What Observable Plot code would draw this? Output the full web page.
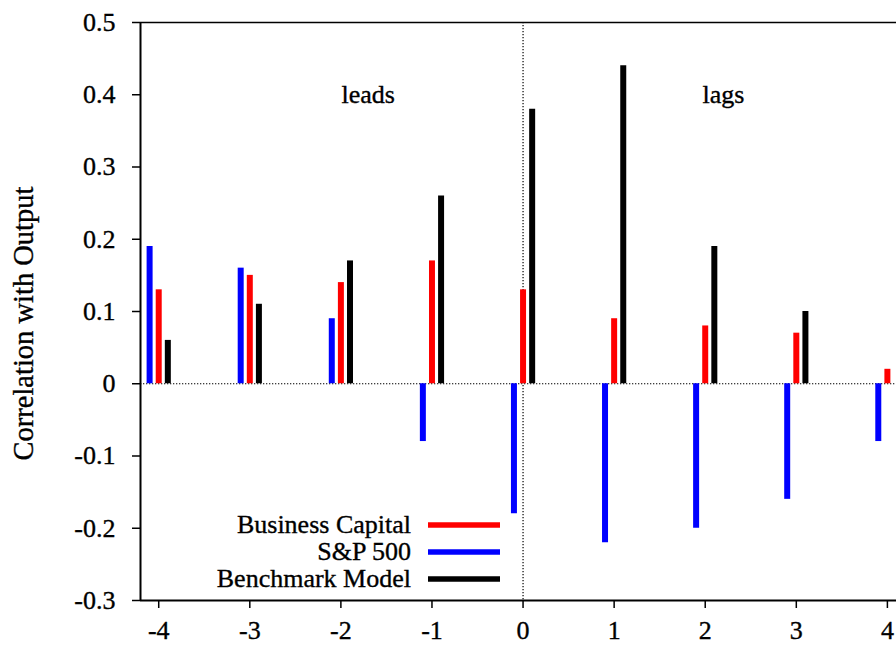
<!DOCTYPE html>
<html><head><meta charset="utf-8">
<script src="https://cdn.jsdelivr.net/npm/d3@7"></script>
<script src="https://cdn.jsdelivr.net/npm/@observablehq/plot@0.6"></script>
<style>
html,body{margin:0;padding:0;background:#fff;overflow:hidden;}
#chart svg, #chart svg text{font-family:"Liberation Serif","DejaVu Serif",serif !important;}
#chart svg text{stroke:#000;stroke-width:0.35px;}
#chart svg{display:block;}
</style></head><body><div id="chart"></div>
<script>
const lags = [-4, -3, -2, -1, 0, 1, 2, 3, 4];
const businessCapital = [0.13, 0.15, 0.14, 0.17, 0.13, 0.09, 0.08, 0.07, 0.02];
const sp500 = [0.19, 0.16, 0.09, -0.08, -0.18, -0.22, -0.20, -0.16, -0.08];
const benchmarkModel = [0.06, 0.11, 0.17, 0.26, 0.38, 0.44, 0.19, 0.10, null];
const yTicks = [-0.3, -0.2, -0.1, 0, 0.1, 0.2, 0.3, 0.4, 0.5];
const xTicks = [-4, -3, -2, -1, 0, 1, 2, 3, 4];
const seriesNames = ["Business Capital", "S&P 500", "Benchmark Model"];
const seriesColors = ["#ff0000", "#0000ff", "#000000"];
const seriesOffsets = [0, -0.1, 0.1];
const seriesValues = [businessCapital, sp500, benchmarkModel];
const annotationLabels = ["leads", "lags"];
const annotationLags = [-1.7, 2.2];
const annotationValues = [0.4, 0.4];
const yLabel = "Correlation with Output";

const FONT = "'Liberation Serif','DejaVu Serif',serif";
const annotations = annotationLabels.map((t, i) => ({label: t, lag: annotationLags[i], value: annotationValues[i]}));
const fmt = d => d === 0 ? "0" : (d < 0 ? "-" : "") + Math.abs(d).toFixed(1);

const barMarks = seriesNames.map((name, si) => {
  const rows = lags.map((l, i) => ({lag: l, value: seriesValues[si][i]})).filter(d => d.value != null);
  return Plot.ruleX(rows, {x: d => d.lag + seriesOffsets[si], y1: 0, y2: "value", stroke: seriesColors[si], strokeWidth: 6});
});

const chart = Plot.plot({
  width: 896,
  height: 645,
  marginLeft: 140,
  marginRight: 0,
  marginTop: 22,
  marginBottom: 45,
  style: {fontSize: "26px", background: "#fff", color: "#000"},
  x: {domain: [-4.2, 4.1]},
  y: {domain: [-0.3, 0.5]},
  marks: [
    Plot.ruleY([0], {stroke: "#000", strokeWidth: 1.2, strokeDasharray: "1.3,1.7"}),
    Plot.ruleX([0], {stroke: "#000", strokeWidth: 1.2, strokeDasharray: "1.3,1.7"}),
    ...barMarks,
    Plot.ruleY([0.5], {stroke: "#000", strokeWidth: 1.5}),
    Plot.ruleY([-0.3], {stroke: "#000", strokeWidth: 2}),
    Plot.ruleX([-4.2], {stroke: "#000", strokeWidth: 2}),
    Plot.axisY({ticks: yTicks, tickSize: 8, tickPadding: 17, tickFormat: fmt, label: null, strokeWidth: 1.5, fontSize: 26}),
    Plot.axisX({ticks: xTicks, tickSize: 8, tickPadding: 12, tickFormat: d => String(d), label: null, strokeWidth: 1.5, fontSize: 26}),
    Plot.text(annotations, {x: "lag", y: "value", text: "label", fontSize: 26}),
    Plot.text([yLabel], {frameAnchor: "left", textAnchor: "middle", lineAnchor: "middle", rotate: -90, dx: -117, dy: 12, fontSize: 28.5})
  ]
});
document.getElementById("chart").appendChild(chart);

const svg = d3.select(chart);
svg.attr("font-family", FONT).style("font-family", FONT);

// Legend (drawn into the same SVG)
const lg = svg.append("g").attr("class", "legend");
seriesNames.forEach((name, i) => {
  const y = 525 + i * 27;
  lg.append("text").attr("x", 411).attr("y", y).attr("dy", "0.32em")
    .attr("text-anchor", "end").attr("font-size", 26).attr("fill", "#000").text(name);
  lg.append("line").attr("x1", 428).attr("x2", 500).attr("y1", y).attr("y2", y)
    .attr("stroke", seriesColors[i]).attr("stroke-width", 5.5);
});
svg.selectAll("text").attr("font-family", FONT).style("font-family", FONT);
</script>
</body></html>
